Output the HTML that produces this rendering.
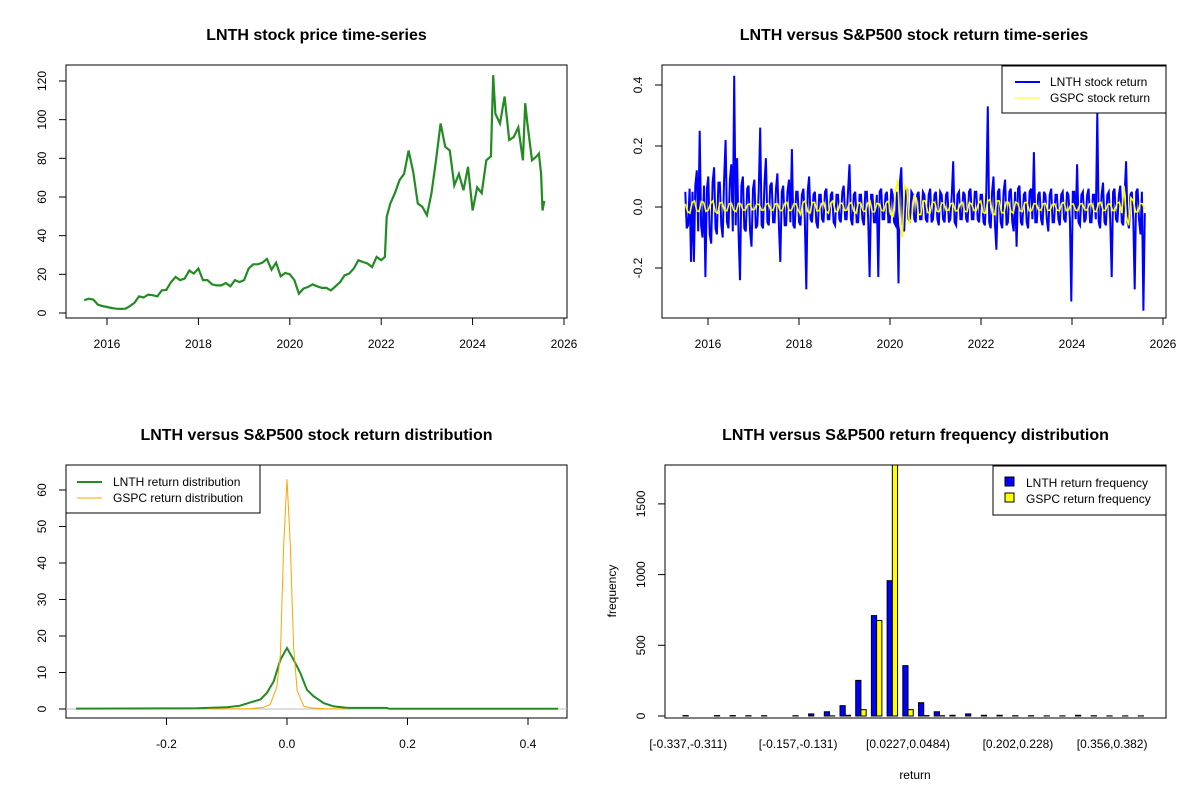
<!DOCTYPE html>
<html><head><meta charset="utf-8"><style>
html,body{margin:0;padding:0;background:#fff;}
svg{display:block;font-family:"Liberation Sans",Arial,sans-serif;}
</style></head><body>
<svg id="c" width="1200" height="800" viewBox="0 0 1200 800">
<rect width="1200" height="800" fill="#fff"/>
</svg>
<script>
// ---- Panel 1: price series ----
const priceYears=[2015.5,2015.6,2015.7,2015.8,2015.9,2016.0,2016.1,2016.2,2016.3,2016.4,2016.5,2016.6,2016.7,2016.8,2016.9,2017.0,2017.1,2017.2,2017.3,2017.4,2017.5,2017.6,2017.7,2017.8,2017.9,2018.0,2018.1,2018.2,2018.3,2018.4,2018.5,2018.6,2018.7,2018.8,2018.9,2019.0,2019.1,2019.2,2019.3,2019.4,2019.5,2019.6,2019.7,2019.8,2019.9,2020.0,2020.1,2020.2,2020.3,2020.4,2020.5,2020.6,2020.7,2020.8,2020.9,2021.0,2021.1,2021.2,2021.3,2021.4,2021.5,2021.6,2021.7,2021.8,2021.9,2022.0,2022.08,2022.12,2022.2,2022.3,2022.4,2022.5,2022.6,2022.7,2022.8,2022.9,2023.0,2023.1,2023.2,2023.3,2023.4,2023.5,2023.6,2023.7,2023.8,2023.9,2024.0,2024.1,2024.2,2024.3,2024.4,2024.45,2024.5,2024.6,2024.7,2024.8,2024.9,2025.0,2025.1,2025.15,2025.2,2025.3,2025.4,2025.45,2025.5,2025.53,2025.57];
const priceValues=[6.6,7.4,7,4.3,3.6,3.1,2.6,2.2,2.1,2.2,3.5,5.2,8.6,8,9.5,9.2,8.6,11.7,12,16,18.6,17,17.8,22,20.4,23,17,17,14.8,14.3,14.3,15.5,13.8,17,16,17,23,25.2,25.2,26,28,22.4,26,19,20.7,20,17,10,12.6,13.5,14.8,13.8,13,13,11.7,13.8,16,19.5,20.4,23,27.3,26.4,25.6,23.8,29,27.3,29,49.7,56.6,62,68.7,72,84,73,56.6,55,50.6,62,79,98,86,84,66,72,63.5,75.6,53,65,62,79,81,123,103,98,112,89.5,91,96,79,108.5,98,79,81,82.5,72,53,58];
const priceYTicks=[0,20,40,60,80,100,120];
const yearTicks=[2016,2018,2020,2022,2024,2026];

// ---- Panel 2: returns ----
const retStart=2015.5, retEnd=2025.6;
const lnthReturns=[0.05,-0.07,-0.06,0.06,-0.18,0.05,-0.18,0.07,0.12,-0.08,0.25,-0.06,-0.10,0.07,-0.23,0.06,0.10,-0.09,-0.12,0.08,
0.13,-0.07,-0.09,0.08,0.08,-0.06,-0.10,0.09,0.22,-0.05,-0.07,0.09,0.14,-0.08,0.43,-0.06,0.16,-0.09,-0.24,0.07,
0.10,-0.07,-0.08,0.06,0.07,-0.08,-0.13,0.06,0.09,-0.07,-0.06,0.05,0.26,-0.06,-0.07,0.08,0.16,-0.05,-0.06,0.07,
0.08,-0.05,-0.05,0.06,0.11,-0.06,-0.18,0.05,0.07,-0.06,-0.06,0.05,0.09,-0.05,0.19,-0.06,-0.07,0.05,0.05,-0.05,
-0.06,0.04,0.06,-0.04,-0.27,0.05,0.10,-0.04,-0.05,0.04,0.05,-0.05,-0.07,0.04,0.04,-0.04,-0.05,0.05,0.06,-0.04,
-0.04,0.04,0.05,-0.05,-0.06,0.04,0.04,-0.04,-0.05,0.05,0.07,-0.04,-0.04,0.05,0.14,-0.04,-0.06,0.04,0.05,-0.05,
-0.05,0.04,0.04,-0.04,-0.06,0.05,0.05,-0.04,-0.23,0.04,0.04,-0.05,-0.05,0.04,-0.23,0.05,0.06,-0.04,-0.04,0.04,
0.05,-0.05,-0.05,0.06,0.04,-0.05,-0.06,0.05,-0.25,0.08,0.13,-0.06,-0.08,0.05,0.06,-0.04,-0.05,0.05,0.04,-0.04,
-0.05,0.04,0.05,-0.04,-0.04,0.05,0.04,-0.04,-0.05,0.04,0.06,-0.05,-0.04,0.04,0.05,-0.04,-0.06,0.05,0.04,-0.04,
-0.05,0.04,0.05,-0.05,-0.04,0.04,0.15,-0.05,-0.06,0.04,0.05,-0.04,-0.04,0.05,0.04,-0.04,-0.05,0.05,0.06,-0.04,
-0.04,0.05,0.05,-0.04,-0.05,0.04,0.04,-0.05,-0.06,0.05,0.33,-0.05,-0.07,0.05,0.10,-0.06,-0.14,0.05,0.06,-0.05,
-0.07,0.05,0.09,-0.06,-0.05,0.05,0.06,-0.05,-0.08,0.05,-0.13,0.06,0.07,-0.05,-0.06,0.04,0.05,-0.05,-0.07,0.05,
0.06,-0.04,0.18,-0.05,-0.05,0.04,0.05,-0.04,-0.06,0.05,0.04,-0.04,-0.08,0.04,0.06,-0.05,-0.05,0.04,0.04,-0.04,
-0.06,0.04,0.05,-0.04,-0.05,0.05,0.04,-0.04,-0.31,0.05,0.05,-0.04,0.14,-0.05,-0.06,0.04,0.05,-0.05,-0.04,0.04,
0.06,-0.05,-0.05,0.04,0.04,-0.04,0.31,-0.05,-0.07,0.04,0.08,-0.05,-0.06,0.04,0.05,-0.04,-0.23,0.05,0.06,-0.04,
-0.05,0.04,0.07,-0.05,-0.06,0.04,0.15,-0.05,-0.07,0.04,0.05,-0.04,-0.27,0.05,0.06,-0.04,-0.09,0.05,-0.34,-0.02];
const gspcReturns=[0.01,-0.015,-0.02,0.015,0.02,-0.012,-0.015,0.018,0.015,-0.014,-0.01,0.012,0.02,-0.015,-0.02,0.013,0.015,-0.012,-0.012,0.01,
0.012,-0.01,-0.015,0.012,0.01,-0.01,-0.01,0.008,0.01,-0.009,-0.008,0.01,0.008,-0.01,-0.01,0.009,0.012,-0.01,-0.01,0.01,
0.01,-0.01,-0.012,0.011,0.015,-0.012,-0.01,0.01,0.01,-0.012,-0.025,0.015,0.02,-0.015,-0.02,0.015,0.015,-0.012,-0.012,0.011,
0.015,-0.014,-0.02,0.013,0.02,-0.015,-0.015,0.012,0.012,-0.011,-0.01,0.01,0.015,-0.014,-0.02,0.015,0.012,-0.012,-0.015,0.013,
0.02,-0.016,-0.015,0.012,0.01,-0.011,-0.012,0.014,0.02,-0.025,-0.03,0.05,0.09,-0.06,-0.1,0.07,0.06,-0.05,-0.04,0.035,
0.03,-0.025,-0.025,0.02,0.02,-0.018,-0.02,0.016,0.015,-0.014,-0.015,0.013,0.012,-0.011,-0.01,0.011,0.012,-0.012,-0.012,0.01,
0.015,-0.014,-0.015,0.014,0.01,-0.011,-0.012,0.012,0.02,-0.018,-0.02,0.02,0.025,-0.022,-0.025,0.02,0.02,-0.018,-0.02,0.016,
0.015,-0.014,-0.02,0.016,0.012,-0.012,-0.015,0.014,0.015,-0.013,-0.012,0.011,0.01,-0.01,-0.01,0.01,0.012,-0.011,-0.01,0.009,
0.01,-0.01,-0.012,0.011,0.015,-0.012,-0.01,0.009,0.01,-0.01,-0.012,0.011,0.01,-0.009,-0.01,0.01,0.012,-0.013,-0.015,0.013,
0.015,-0.012,-0.01,0.009,0.01,-0.011,-0.012,0.013,0.015,-0.02,0.07,-0.03,-0.06,0.03,0.02,-0.016,-0.015,0.012,0.01,-0.008];
const retYTicks=[-0.2,0.0,0.2,0.4];
const retYLabels=["-0.2","0.0","0.2","0.4"];

// ---- Panel 3: densities ----
const lnthDensX=[-0.35,-0.15,-0.1,-0.078,-0.061,-0.044,-0.033,-0.022,-0.011,0,0.011,0.022,0.033,0.044,0.061,0.078,0.1,0.165,0.17,0.45];
const lnthDensY=[0.1,0.2,0.5,0.9,1.8,2.6,4.5,7.6,13.5,16.7,13.5,9.9,5.3,3.5,1.6,0.7,0.3,0.3,0.05,0.05];
const gspcDensX=[-0.13,-0.06,-0.04,-0.028,-0.017,-0.011,-0.0055,0,0.0055,0.011,0.017,0.028,0.04,0.06,0.1];
const gspcDensY=[0,0.1,0.4,1.2,6,15,45,63,45,17,5,0.7,0.3,0.1,0];
const densXTicks=[-0.2,0.0,0.2,0.4];
const densXLabels=["-0.2","0.0","0.2","0.4"];
const densYTicks=[0,10,20,30,40,50,60];

// ---- Panel 4: histogram ----
const binLabels=["[-0.337,-0.311)","","","","","","","[-0.157,-0.131)","","","","","","","[0.0227,0.0484)","","","","","","","[0.202,0.228)","","","","","","[0.356,0.382)","",""];
const lnthFreq=[3,0,3,3,2,2,0,2,15,30,73,252,710,957,356,94,30,5,15,5,5,2,2,1,1,5,2,1,1,1];
const gspcFreq=[0,0,0,0,0,0,0,0,0,1,5,45,675,1850,45,3,2,0,0,0,0,0,0,0,0,0,0,0,0,0];
const freqTicks=[0,500,1000,1500];

const svg=document.getElementById('c');
const NS='http://www.w3.org/2000/svg';
function mk(tag,attrs,parent){const e=document.createElementNS(NS,tag);for(const k in attrs)e.setAttribute(k,attrs[k]);(parent||svg).appendChild(e);return e;}
function txt(s,x,y,o,parent){const e=mk('text',Object.assign({x:x,y:y,'font-size':12,'text-anchor':'middle',fill:'#000'},o||{}),parent);e.textContent=s;return e;}
function lin(d0,d1,r0,r1){return v=>r0+(v-d0)/(d1-d0)*(r1-r0);}

function panel(name,box,title,titleY){
  const g=mk('g',{});
  
  
  const t=txt(title,(box[0]+box[2])/2,titleY,{'font-size':16,'font-weight':'bold'},g);
  
  
  return g;
}
function frame(g,box,name){
  const r=mk('rect',{x:box[0],y:box[1],width:box[2]-box[0],height:box[3]-box[1],fill:'none',stroke:'#000','stroke-width':1},g);
  
  
}
function xAxis(g,ticks,labels,sx,yb,name){
  const a=mk('g',{},g);
  
  
  mk('line',{x1:sx(ticks[0]),x2:sx(ticks[ticks.length-1]),y1:yb,y2:yb,stroke:'#000'},a);
  ticks.forEach((v,i)=>{const x=sx(v);mk('line',{x1:x,x2:x,y1:yb,y2:yb+7,stroke:'#000'},a);
    const l=txt(labels[i],x,yb+30,{},a);
    
    });
}
function yAxis(g,ticks,labels,sy,xl,name){
  const a=mk('g',{},g);
  
  
  mk('line',{x1:xl,x2:xl,y1:sy(ticks[0]),y2:sy(ticks[ticks.length-1]),stroke:'#000'},a);
  ticks.forEach((v,i)=>{const y=sy(v);mk('line',{x1:xl,x2:xl-7,y1:y,y2:y,stroke:'#000'},a);
    const l=txt(labels[i],xl-20,y,{transform:`rotate(-90 ${xl-20} ${y})`},a);
    
    });
}
function poly(g,xs,ys,sx,sy,color,w,name){
  const pts=xs.map((x,i)=>sx(x).toFixed(1)+','+sy(ys[i]).toFixed(1)).join(' ');
  const p=mk('polyline',{points:pts,fill:'none',stroke:color,'stroke-width':w,'stroke-linejoin':'miter'},g);
  
  
  return p;
}

// Panel 1
{const box=[66,65,567,318];const g=panel('price-panel',box,'LNTH stock price time-series',40);
 const sx=lin(2016,2026,107,564), sy=lin(0,120,313,81);
 frame(g,box,'price');
 xAxis(g,yearTicks,yearTicks.map(String),sx,318,'price');
 yAxis(g,priceYTicks,priceYTicks.map(String),sy,66,'price');
 poly(g,priceYears,priceValues,sx,sy,'#228B22',2.2,'price-line');}

// Panel 2
{const box=[662,65,1166,318];const g=panel('returns-panel',box,'LNTH versus S&P500 stock return time-series',40);
 const sx=lin(2016,2026,708,1163), sy=lin(0,0.2,207,146);
 frame(g,box,'returns');
 xAxis(g,yearTicks,yearTicks.map(String),sx,318,'returns');
 yAxis(g,retYTicks,retYLabels,sy,662,'returns');
 const lx=lnthReturns.map((v,i)=>retStart+i*(retEnd-retStart)/(lnthReturns.length-1));
 poly(g,lx,lnthReturns,sx,sy,'#0000FF',2,'lnth-return-line');
 const gx=gspcReturns.map((v,i)=>retStart+i*(retEnd-retStart)/(gspcReturns.length-1));
 poly(g,gx,gspcReturns,sx,sy,'#FFFF00',1.6,'gspc-return-line');
 const lg=mk('g',{},g);
 
 
 mk('rect',{x:1002,y:66,width:164,height:47,fill:'#fff',stroke:'#000'},lg);
 mk('line',{x1:1015,x2:1040,y1:82,y2:82,stroke:'#0000FF','stroke-width':2},lg);
 mk('line',{x1:1015,x2:1040,y1:98,y2:98,stroke:'#FFFF00','stroke-width':1},lg);
 txt('LNTH stock return',1050,86,{'text-anchor':'start'},lg);
 txt('GSPC stock return',1050,102,{'text-anchor':'start'},lg);}

// Panel 3
{const box=[66,465,567,718];const g=panel('density-panel',box,'LNTH versus S&P500 stock return distribution',440);
 const sx=lin(0,0.2,287,407.5), sy=lin(0,10,709,672.5);
 frame(g,box,'density');
 xAxis(g,densXTicks,densXLabels,sx,718,'density');
 yAxis(g,densYTicks,densYTicks.map(String),sy,66,'density');
 mk('line',{x1:66,x2:567,y1:sy(0),y2:sy(0),stroke:'#BEBEBE'},g);
 poly(g,lnthDensX,lnthDensY,sx,sy,'#228B22',2,'lnth-density-line');
 poly(g,gspcDensX,gspcDensY,sx,sy,'#FFA500',1,'gspc-density-line');
 const lg=mk('g',{},g);
 
 
 mk('rect',{x:66,y:465,width:194,height:48,fill:'#fff',stroke:'#000'},lg);
 mk('line',{x1:77,x2:102,y1:482,y2:482,stroke:'#228B22','stroke-width':2},lg);
 mk('line',{x1:77,x2:102,y1:498,y2:498,stroke:'#FFA500','stroke-width':1},lg);
 txt('LNTH return distribution',113,486,{'text-anchor':'start'},lg);
 txt('GSPC return distribution',113,502,{'text-anchor':'start'},lg);}

// Panel 4
{const box=[665,465,1166,718];const g=panel('histogram-panel',box,'LNTH versus S&P500 return frequency distribution',440);
 const sy=lin(0,500,716,645.3); const unit=5.23, grp=15.7, x0=683;
 const yMaxPx=box[1];
 const bx=i=>x0+i*grp;
 const a=mk('g',{},g);
 lnthFreq.forEach((v,i)=>{const y=Math.max(sy(v),yMaxPx);
   const r=mk('rect',{x:bx(i),y:y,width:unit,height:sy(0)-y,fill:'#0000FF',stroke:'#000','stroke-width':1},a);
   
   });
 gspcFreq.forEach((v,i)=>{const y=Math.max(sy(v),yMaxPx);
   const r=mk('rect',{x:bx(i)+unit,y:y,width:unit,height:sy(0)-y,fill:'#FFFF00',stroke:'#000','stroke-width':1},a);
   
   });
 frame(g,box,'histogram');
 binLabels.forEach((s,i)=>{if(!s)return;const l=txt(s,bx(i)+unit,748,{},g);
   
   });
 yAxis(g,freqTicks,freqTicks.map(String),sy,665,'histogram');
 const yt=txt('frequency',616,591,{transform:'rotate(-90 616 591)'},g);
 
 
 const xt=txt('return',915,779,{},g);
 
 
 const lg=mk('g',{},g);
 
 
 mk('rect',{x:993,y:466,width:173,height:49,fill:'#fff',stroke:'#000'},lg);
 mk('rect',{x:1005,y:477,width:9,height:9,fill:'#0000FF',stroke:'#000'},lg);
 mk('rect',{x:1005,y:493,width:9,height:9,fill:'#FFFF00',stroke:'#000'},lg);
 txt('LNTH return frequency',1026,487,{'text-anchor':'start'},lg);
 txt('GSPC return frequency',1026,503,{'text-anchor':'start'},lg);}
</script>
</body></html>
